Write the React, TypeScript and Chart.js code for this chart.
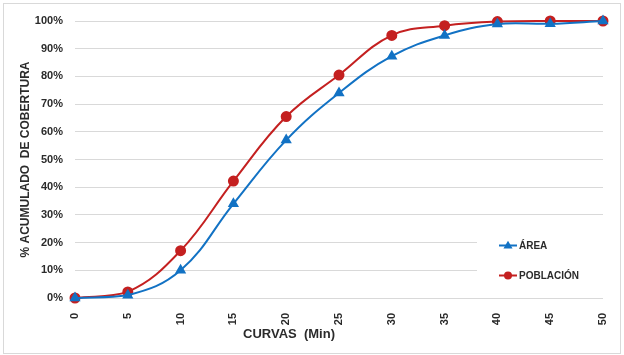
import React, { useEffect, useRef } from "react";
import { Chart, registerables } from "chart.js";

Chart.register(...registerables);

const categories = ["0", "5", "10", "15", "20", "25", "30", "35", "40", "45", "50"];
const area = [0, 1, 10, 34, 57, 74, 87.3, 94.8, 98.9, 99, 100];
const poblacion = [0, 2.2, 17.1, 42.2, 65.5, 80.5, 94.8, 98.3, 99.8, 100, 100];
const seriesNames = ["ÁREA", "POBLACIÓN"];
const yTitle = "% ACUMULADO  DE COBERTURA";
const xTitle = "CURVAS  (Min)";

const BLUE = "#1272C4";
const RED = "#C42020";
const FONT = "'Liberation Sans', Arial, sans-serif";
const TEXT = "#2b2b2b";

function drawMarker(ctx: CanvasRenderingContext2D, style: string, x: number, y: number, r: number, color: string) {
  ctx.save();
  ctx.fillStyle = color;
  ctx.beginPath();
  if (style === "triangle") {
    const s = r * 1.2;
    ctx.moveTo(x, y - s);
    ctx.lineTo(x + s * 0.95, y + s * 0.6);
    ctx.lineTo(x - s * 0.95, y + s * 0.6);
    ctx.closePath();
  } else {
    ctx.arc(x, y, r, 0, Math.PI * 2);
  }
  ctx.fill();
  ctx.restore();
}

const decorPlugin = {
  id: "decor",
  beforeDraw(chart: any) {
    const ctx = chart.ctx as CanvasRenderingContext2D;
    ctx.save();
    ctx.fillStyle = "#ffffff";
    ctx.fillRect(0, 0, chart.width, chart.height);
    ctx.strokeStyle = "#d9d9d9";
    ctx.lineWidth = 1;
    ctx.strokeRect(3.5, 3.5, chart.width - 7, chart.height - 5);
    ctx.restore();
  },
  afterDraw(chart: any) {
    const ctx = chart.ctx as CanvasRenderingContext2D;
    const ca = chart.chartArea;
    // legend inside the plot area
    ctx.save();
    ctx.fillStyle = "#ffffff";
    ctx.fillRect(ca.right - 126, ca.bottom - 72, 126, 64);
    const ys = [ca.bottom - 52.5, ca.bottom - 22.5];
    chart.data.datasets.forEach((ds: any, i: number) => {
      const y = ys[i];
      const x0 = ca.right - 104;
      ctx.strokeStyle = ds.borderColor;
      ctx.lineWidth = 2;
      ctx.beginPath();
      ctx.moveTo(x0, y);
      ctx.lineTo(x0 + 18, y);
      ctx.stroke();
      drawMarker(ctx, ds.pointStyle, x0 + 9, y, 4, ds.borderColor);
      ctx.fillStyle = TEXT;
      ctx.font = `bold 10px ${FONT}`;
      ctx.textBaseline = "middle";
      ctx.textAlign = "left";
      ctx.fillText(ds.label, x0 + 20, y + 0.5);
    });
    // x axis title
    ctx.fillStyle = TEXT;
    ctx.font = `bold 13px ${FONT}`;
    ctx.textAlign = "center";
    ctx.textBaseline = "alphabetic";
    ctx.fillText(xTitle, 289, 338);
    ctx.restore();
  },
};

export default function App() {
  const ref = useRef<HTMLCanvasElement | null>(null);
  useEffect(() => {
    if (!ref.current) return;
    const chart = new Chart(ref.current, {
      type: "line",
      data: {
        labels: categories,
        datasets: [
          {
            label: seriesNames[0],
            data: area,
            borderColor: BLUE,
            backgroundColor: BLUE,
            pointBackgroundColor: BLUE,
            pointBorderColor: BLUE,
            pointStyle: "triangle",
            pointRadius: 4.5,
            borderWidth: 2,
            tension: 0.4,
            clip: false,
          },
          {
            label: seriesNames[1],
            data: poblacion,
            borderColor: RED,
            backgroundColor: RED,
            pointBackgroundColor: RED,
            pointBorderColor: RED,
            pointStyle: "circle",
            pointRadius: 4.5,
            borderWidth: 2,
            tension: 0.4,
            clip: false,
          },
        ],
      },
      options: {
        animation: false,
        responsive: false,
        events: [],
        layout: { padding: { left: 0, top: 21, right: 21, bottom: 0 } },
        plugins: {
          legend: { display: false },
          tooltip: { enabled: false },
        },
        scales: {
          x: {
            type: "category",
            offset: false,
            grid: { display: false },
            border: { display: false },
            ticks: {
              minRotation: 90,
              maxRotation: 90,
              padding: 7,
              color: TEXT,
              font: { family: FONT, size: 11, weight: "bold" },
            },
            afterFit: (s: any) => {
              s.height = 57;
            },
          },
          y: {
            min: 0,
            max: 100,
            grid: { color: "#d9d9d9", lineWidth: 1, drawTicks: false },
            border: { display: false },
            ticks: {
              stepSize: 10,
              padding: 12,
              color: TEXT,
              font: { family: FONT, size: 11, weight: "bold" },
              callback: (v: any) => `${v}%`,
            },
            title: {
              display: true,
              text: yTitle,
              color: TEXT,
              padding: { top: 18, bottom: 0 },
              font: { family: FONT, size: 12, weight: "bold" },
            },
            afterFit: (s: any) => {
              s.width = 75;
            },
          },
        },
      },
      plugins: [decorPlugin],
    } as any);
    return () => chart.destroy();
  }, []);
  return (
    <div style={{ position: "absolute", left: 0, top: 0, width: 624, height: 355 }}>
      <canvas ref={ref} width={624} height={355} style={{ display: "block" }} />
    </div>
  );
}
